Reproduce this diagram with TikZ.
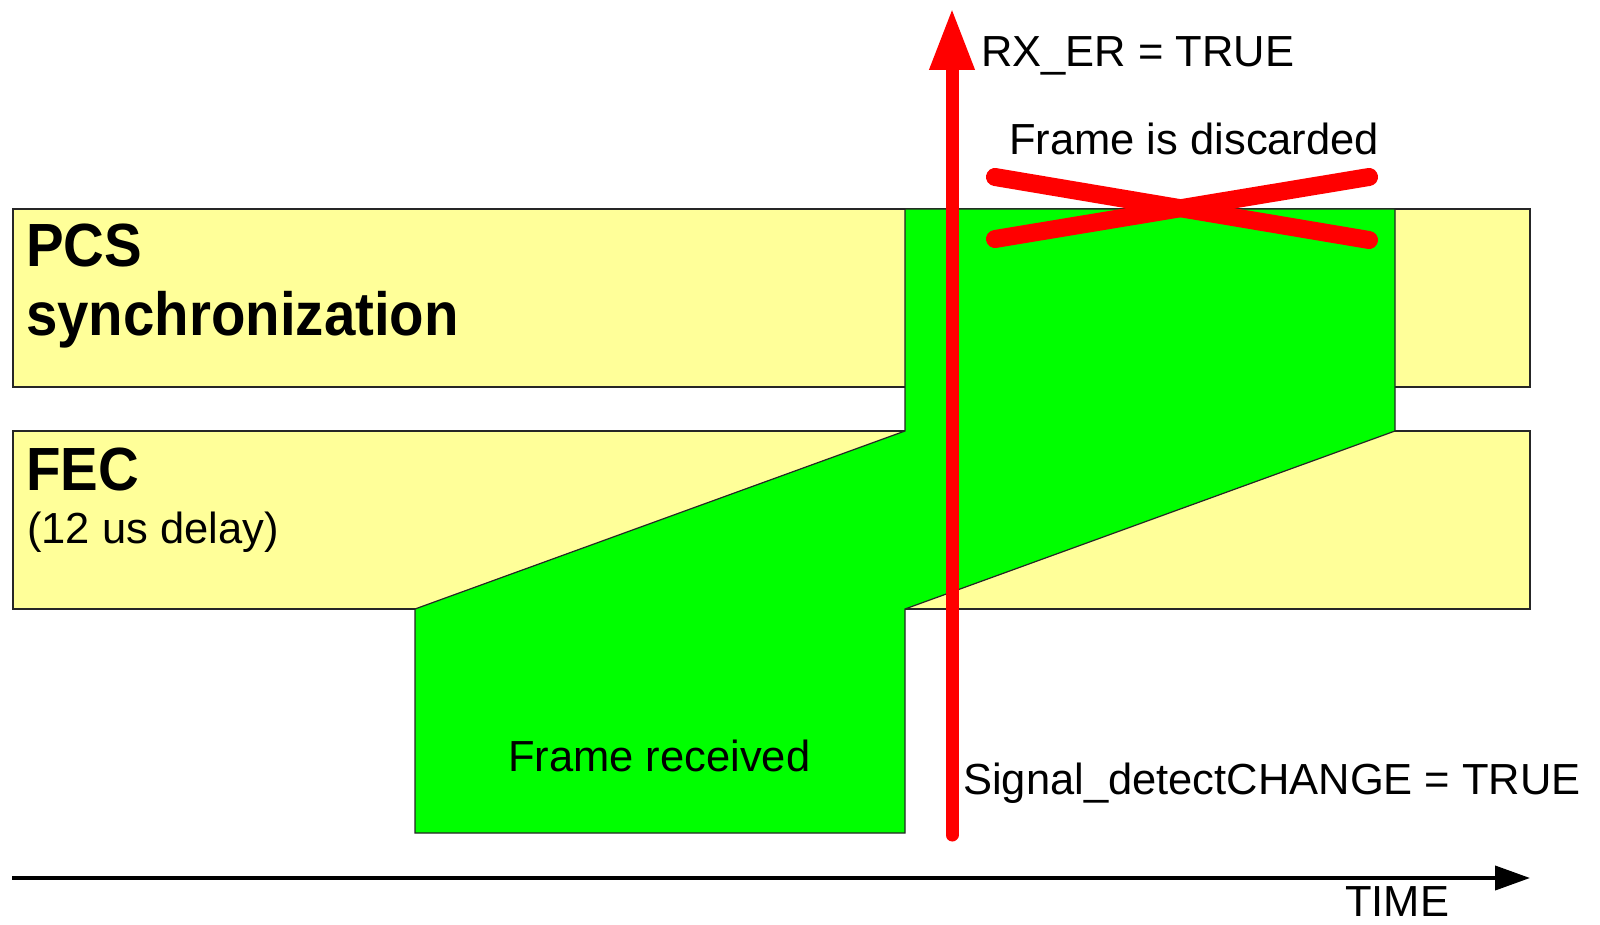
\documentclass[tikz,border=0pt]{standalone}
\usepackage{fontspec}
\setmainfont{Liberation Sans}
\newfontfamily\titlefont{Liberation Sans Bold}[FakeStretch=0.925]
\usetikzlibrary{arrows.meta}
\definecolor{bandyellow}{HTML}{FFFF99}
\definecolor{framegreen}{HTML}{00FF00}
\definecolor{alarmred}{HTML}{FF0000}
\tikzset{
  band/.style={fill=bandyellow, draw=black!85, line width=1.4pt},
  frameshape/.style={fill=framegreen, draw=black!85, line width=1.2pt, line join=miter},
  label/.style={inner sep=0pt, anchor=base west, font=\fontsize{43.5}{52}\selectfont},
  title/.style={inner sep=0pt, anchor=base west, font=\titlefont\fontsize{61}{68}\selectfont},
  cross/.style={draw=alarmred, line width=18pt, line cap=round},
  event/.style={draw=alarmred, line width=13pt, line cap=round,
    -{Triangle[width=42pt,length=62pt]}},
  axis/.style={draw=black, line width=4pt, -{Triangle[width=24pt,length=35pt]}}
}
\begin{document}
\begin{tikzpicture}[x=1pt, y=-1pt]
\useasboundingbox (0,0) rectangle (1600,925);

% layer bands
\path[band] (13,209) rectangle (1530,387);
\path[band] (13,431) rectangle (1530,609);

% frame travelling through FEC into PCS
\path[frameshape] (415,833) -- (415,609) -- (905,431) -- (905,209)
  -- (1395,209) -- (1395,431) -- (905,609) -- (905,833) -- cycle;

% discarded mark
\path[cross] (995,177) -- (1369,240);
\path[cross] (995,239) -- (1369,177);

% event line
\coordinate (evbot) at (952,835);
\coordinate (evtop) at (952,8);
\path[event] (evbot) -- (evtop);

% time axis
\coordinate (tstart) at (12,878);
\coordinate (tend) at (1530,878);
\path[axis] (tstart) -- (tend);

% texts
\node[title] (pcs) at (26,267) {PCS};
\node[title] (sync) at (26,335) {synchronization};
\node[title] (fec) at (26,490) {FEC};
\node[label] (delay) at (27,543) {(12 us delay)};
\node[label] (rxer) at (981,67) {RX\_ER = TRUE};
\node[label] (disc) at (1009,155) {Frame is discarded};
\node[label] (recv) at (508,771) {Frame received};
\node[label] (sig) at (963,794) {Signal\_detectCHANGE = TRUE};
\node[label] (time) at (1345,916) {TIME};
\end{tikzpicture}
\end{document}
